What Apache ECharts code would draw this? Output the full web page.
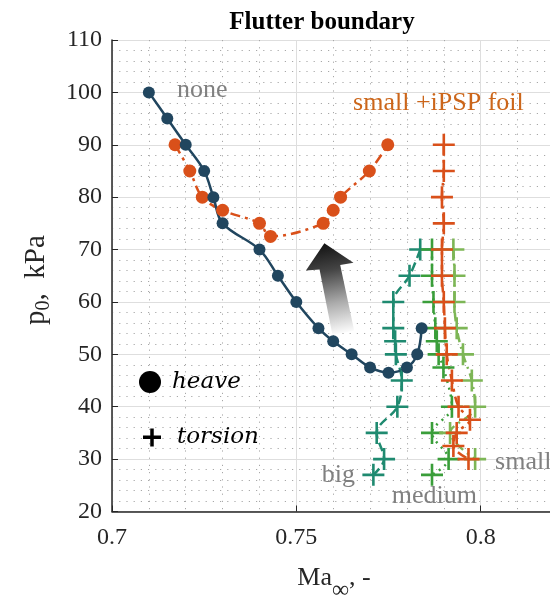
<!DOCTYPE html>
<html>
<head>
<meta charset="utf-8">
<script src="https://cdn.jsdelivr.net/npm/echarts@6/dist/echarts.min.js"></script>
<style>
  html, body { margin: 0; padding: 0; background: #fff; }
  #chart { width: 550px; height: 598px; }
</style>
</head>
<body>
<div id="chart"></div>
<script>
  // heave boundary (circles): [Ma, p0 kPa]
  const heaveNone = [[0.71, 100], [0.715, 95], [0.72, 90], [0.725, 85], [0.7275, 80], [0.73, 75], [0.74, 70],
    [0.745, 65], [0.75, 60], [0.756, 55], [0.76, 52.5], [0.765, 50], [0.77, 47.5], [0.775, 46.5],
    [0.78, 47.5], [0.7828, 50], [0.784, 55]];
  const heaveFoil = [[0.7171, 90], [0.7211, 85], [0.7245, 80], [0.73, 77.5], [0.74, 75], [0.743, 72.5],
    [0.7573, 75], [0.76, 77.5], [0.762, 80], [0.7698, 85], [0.7748, 90]];

  // torsion boundary (plus markers)
  const torsionBig = [[0.7836, 70], [0.7807, 65], [0.7763, 60], [0.7763, 55], [0.7768, 52.5], [0.777, 50],
    [0.7786, 45], [0.7774, 40], [0.7718, 35], [0.7738, 30], [0.7709, 27]];
  const torsionMedium = [[0.7868, 70], [0.7868, 65], [0.7872, 60], [0.7877, 55], [0.7881, 52.5], [0.7886, 50],
    [0.7899, 47.5], [0.7922, 40], [0.7868, 35], [0.7913, 30], [0.7868, 27]];
  const torsionSmall = [[0.7926, 70], [0.7929, 65], [0.7929, 60], [0.7935, 55], [0.7952, 50], [0.7976, 45],
    [0.7985, 40], [0.7917, 35], [0.7985, 30]];
  const torsionFoil = [[0.79, 90], [0.79, 85], [0.7895, 80], [0.79, 75], [0.7895, 70], [0.7895, 65], [0.79, 60],
    [0.7903, 55], [0.7908, 50], [0.7922, 45], [0.794, 40], [0.7971, 37.5], [0.7935, 35], [0.7926, 32.5],
    [0.7967, 30]];

  const xTicks = [0.7, 0.75, 0.8];
  const yTicks = [20, 30, 40, 50, 60, 70, 80, 90, 100, 110];

  // text labels in the plot, placed at data positions
  const labels = [
    {text: 'none', at: [0.7176, 100.5], color: '#808080'},
    {text: 'small +iPSP foil', at: [0.7654, 98], color: '#cc661a'},
    {text: 'big', at: [0.7569, 27], color: '#808080'},
    {text: 'medium', at: [0.7759, 23], color: '#808080'},
    {text: 'small', at: [0.8039, 29.5], color: '#808080'}
  ];
  // trend arrow outline in data space
  const arrow = [[0.7576, 71.2], [0.7655, 67.5], [0.7619, 67.05], [0.7657, 54.5], [0.7598, 53.7],
    [0.7563, 66.2], [0.7526, 66.0]];

  const serif = 'Liberation Serif';
  const plus = 'path://M-1.3,-11H1.3V-1.3H11V1.3H1.3V11H-1.3V1.3H-11V-1.3H-1.3Z';

  function heave(name, data, color, dash, size) {
    return {
      name: name, type: 'line', data: data, smooth: 0.35,
      symbol: 'circle', symbolSize: size,
      lineStyle: {color: color, width: 2.5, type: dash},
      itemStyle: {color: color},
      emphasis: {disabled: true}
    };
  }

  function torsion(name, data, color, dash) {
    return {
      name: name, type: 'line', data: data, smooth: 0.35,
      symbol: plus, symbolSize: 22,
      lineStyle: {color: color, width: 2.5, type: dash},
      itemStyle: {color: color},
      emphasis: {disabled: true}
    };
  }

  let myChart = echarts.init(document.getElementById('chart'));
  myChart.setOption({
    animation: false,
    title: {
      text: 'Flutter boundary',
      left: 317,
      textAlign: 'center',
      top: 5,
      textStyle: {fontFamily: serif, fontWeight: 'bold', fontSize: 25, color: '#000'}
    },
    grid: {left: 112, top: 40, width: 553, height: 471.5, outerBoundsMode: 'none'},
    xAxis: {
      type: 'value',
      min: xTicks[0],
      max: 0.85,
      interval: 0.05,
      axisLine: {lineStyle: {color: '#262626', width: 1.5}},
      axisTick: {inside: true, length: 6, lineStyle: {color: '#262626'}},
      axisLabel: {fontFamily: serif, fontSize: 24, color: '#262626', margin: 14,
        formatter: v => xTicks.indexOf(+v.toFixed(2)) >= 0 ? String(+v.toFixed(2)) : ''},
      splitLine: {lineStyle: {color: '#dedede', width: 1}},
      minorTick: {show: false, splitNumber: 5},
      minorSplitLine: {show: true, lineStyle: {color: '#a8a8a8', width: 1, type: [1.2, 6]}}
    },
    yAxis: {
      type: 'value',
      min: yTicks[0],
      max: yTicks[yTicks.length - 1],
      interval: 10,
      axisLine: {show: true, lineStyle: {color: '#262626', width: 1.5}},
      axisTick: {show: true, inside: true, length: 6, lineStyle: {color: '#262626'}},
      axisLabel: {fontFamily: serif, fontSize: 24, color: '#262626', margin: 10},
      splitLine: {lineStyle: {color: '#dedede', width: 1}},
      minorTick: {show: false, splitNumber: 5},
      minorSplitLine: {show: true, lineStyle: {color: '#a8a8a8', width: 1, type: [1.2, 6]}}
    },
    series: [
      torsion('big', torsionBig, '#1f8a70', [9, 5]),
      torsion('medium', torsionMedium, '#3a9e3a', [2, 5]),
      torsion('small', torsionSmall, '#7db656', [9, 5, 2, 5]),
      torsion('small +iPSP foil', torsionFoil, '#d9501a', [10, 5, 3, 5]),
      heave('small +iPSP foil', heaveFoil, '#d9501a', [10, 5, 3, 5], 13),
      heave('none', heaveNone, '#21465f', 'solid', 12)
    ]
  });

  const px = p => myChart.convertToPixel({gridIndex: 0}, p);
  const graphics = [];

  // arrow sits under the series lines
  graphics.push({
    type: 'polygon',
    shape: {points: arrow.map(px)},
    style: {
      fill: new echarts.graphic.LinearGradient(0.3, 0, 0.7, 1, [
        {offset: 0, color: '#111'},
        {offset: 0.3, color: '#444'},
        {offset: 0.65, color: '#aaa'},
        {offset: 1, color: '#fff'}
      ])
    },
    z: 1
  });

  labels.forEach(l => {
    const p = px(l.at);
    graphics.push({
      type: 'text', x: p[0], y: p[1], z: 12,
      style: {text: l.text, fill: l.color, fontFamily: serif, fontSize: 26, align: 'left', verticalAlign: 'middle'}
    });
  });

  // legend: marker meaning
  graphics.push(
    {type: 'circle', shape: {cx: 150, cy: 382, r: 11}, style: {fill: '#000'}, z: 12},
    {type: 'text', x: 172, y: 382, z: 12,
      style: {text: 'heave', fill: '#000', fontFamily: 'DejaVu Serif', fontStyle: 'italic', fontSize: 23, verticalAlign: 'middle'}},
    {type: 'rect', shape: {x: 143, y: 435.5, width: 18, height: 3.5}, style: {fill: '#000'}, z: 12},
    {type: 'rect', shape: {x: 150.25, y: 428.5, width: 3.5, height: 18}, style: {fill: '#000'}, z: 12},
    {type: 'text', x: 177, y: 437, z: 12,
      style: {text: 'torsion', fill: '#000', fontFamily: 'DejaVu Serif', fontStyle: 'italic', fontSize: 23, verticalAlign: 'middle'}}
  );

  // axis names
  graphics.push(
    {type: 'text', x: 334, y: 578, z: 12,
      style: {
        text: '{a|Ma}{b|∞}{a|, -}', align: 'center', verticalAlign: 'middle', fill: '#262626',
        rich: {
          a: {fontFamily: serif, fontSize: 26, fill: '#262626'},
          b: {fontFamily: serif, fontSize: 24, fill: '#262626', padding: [26, 0, 0, 0]}
        }
      }},
    {type: 'text', x: 36, y: 280, rotation: Math.PI / 2, z: 12,
      style: {
        text: '{a|p}{b|0}{a|,  kPa}', align: 'center', verticalAlign: 'middle', fill: '#262626',
        rich: {
          a: {fontFamily: serif, fontSize: 29, fill: '#262626'},
          b: {fontFamily: serif, fontSize: 20, fill: '#262626', padding: [16, 0, 0, 0]}
        }
      }}
  );

  myChart.setOption({graphic: graphics});
</script>
</body>
</html>
